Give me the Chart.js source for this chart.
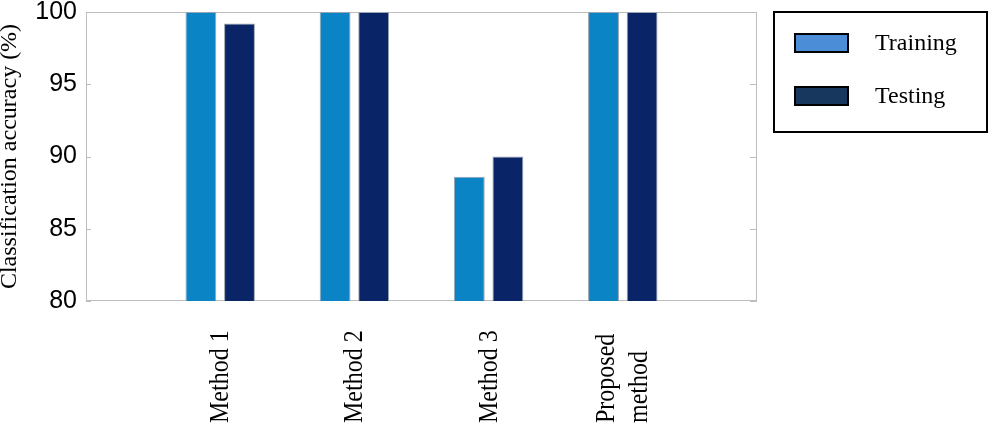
<!DOCTYPE html>
<html><head><meta charset="utf-8">
<script src="https://cdn.jsdelivr.net/npm/chart.js@4/dist/chart.umd.min.js"></script>
<style>html,body{margin:0;padding:0;background:#fff}</style>
</head><body>
<canvas id="c" width="1000" height="425"></canvas>
<script>
const categories = ['Method 1', 'Method 2', 'Method 3', ['Proposed', 'method']];
const seriesNames = ['Training', 'Testing'];
const training = [100, 100, 88.6, 100];
const testing = [99.2, 100, 90, 100];
const yTickValues = [80, 85, 90, 95, 100];
const barColors = ['#0b84c6', '#0a2468'];
const legendColors = ['#4c8dd8', '#17375e'];

const paddedLabels = ['', ...categories, ''];
const pad = arr => [null, ...arr, null];

const serif = '"Liberation Serif", "Times New Roman", serif';
const sans = '"Liberation Sans", Arial, sans-serif';

const framePlugin = {
  id: 'frame',
  beforeDatasetsDraw(chart) {
    const {ctx, chartArea: a, scales: {y}} = chart;
    ctx.save();
    ctx.strokeStyle = '#bdbdbd';
    ctx.lineWidth = 1;
    ctx.strokeRect(a.left + 0.5, a.top + 0.5, a.right - a.left - 1, a.bottom - a.top - 1);
    ctx.beginPath();
    yTickValues.forEach(v => {
      const py = Math.round(y.getPixelForValue(v)) + 0.5;
      ctx.moveTo(a.left, py); ctx.lineTo(a.left + 5, py);
      ctx.moveTo(a.right - 7, py); ctx.lineTo(a.right, py);
    });
    ctx.stroke();
    ctx.restore();
  },
  afterDraw(chart) {
    const {ctx, chartArea: a, scales: {x}} = chart;
    ctx.save();
    ctx.fillStyle = '#000';
    ctx.font = '24px ' + serif;
    const lh = 33;
    categories.forEach((lab, i) => {
      const lines = Array.isArray(lab) ? lab : [lab];
      const cx = x.getPixelForValue(i + 1);
      lines.forEach((ln, j) => {
        const off = (j - (lines.length - 1) / 2) * lh;
        ctx.save();
        ctx.translate(cx + off + 8, 423);
        ctx.scale(1.12, 1);
        ctx.rotate(-Math.PI / 2);
        ctx.textAlign = 'left';
        ctx.textBaseline = 'alphabetic';
        ctx.fillText(ln, 0, 0);
        ctx.restore();
      });
    });
    // legend
    const L = {x: a.right + 17, y: 12, w: 213, h: 120};
    ctx.lineWidth = 2;
    ctx.strokeStyle = '#000';
    ctx.strokeRect(L.x, L.y, L.w, L.h);
    seriesNames.forEach((name, i) => {
      const cy = L.y + 31 + i * 53;
      ctx.fillStyle = legendColors[i];
      ctx.fillRect(L.x + 21, cy - 9, 53, 18);
      ctx.strokeRect(L.x + 21, cy - 9, 53, 18);
      ctx.fillStyle = '#000';
      ctx.font = '24px ' + serif;
      ctx.textAlign = 'left';
      ctx.textBaseline = 'alphabetic';
      ctx.fillText(name, L.x + 101, cy + 7);
    });
    ctx.restore();
  }
};

new Chart(document.getElementById('c'), {
  type: 'bar',
  data: {
    labels: paddedLabels,
    datasets: [
      {label: seriesNames[0], data: pad(training), backgroundColor: barColors[0], borderColor: '#9aa4b2', borderWidth: 1},
      {label: seriesNames[1], data: pad(testing), backgroundColor: barColors[1], borderColor: '#9aa4b2', borderWidth: 1}
    ]
  },
  options: {
    responsive: false,
    animation: false,
    devicePixelRatio: 1,
    layout: {padding: {top: 12, right: 243, bottom: 124, left: 0}},
    datasets: {bar: {categoryPercentage: 0.575, barPercentage: 0.8}},
    plugins: {legend: {display: false}, tooltip: {enabled: false}},
    scales: {
      x: {
        type: 'category',
        offset: false,
        display: false
      },
      y: {
        min: 80, max: 100,
        afterBuildTicks(scale) { scale.ticks = yTickValues.map(v => ({value: v})); },
        afterFit(scale) { scale.width = 86; scale.paddingTop = 0; scale.paddingBottom = 0; },
        grid: {display: false, drawTicks: false},
        border: {display: false},
        ticks: {color: '#000', padding: 9, font: {family: sans, size: 25}},
        title: {
          display: true,
          text: 'Classification accuracy (%)',
          color: '#000',
          padding: 0,
          font: {family: serif, size: 24, lineHeight: 0.85}
        }
      }
    }
  },
  plugins: [framePlugin]
});
</script>
</body></html>
